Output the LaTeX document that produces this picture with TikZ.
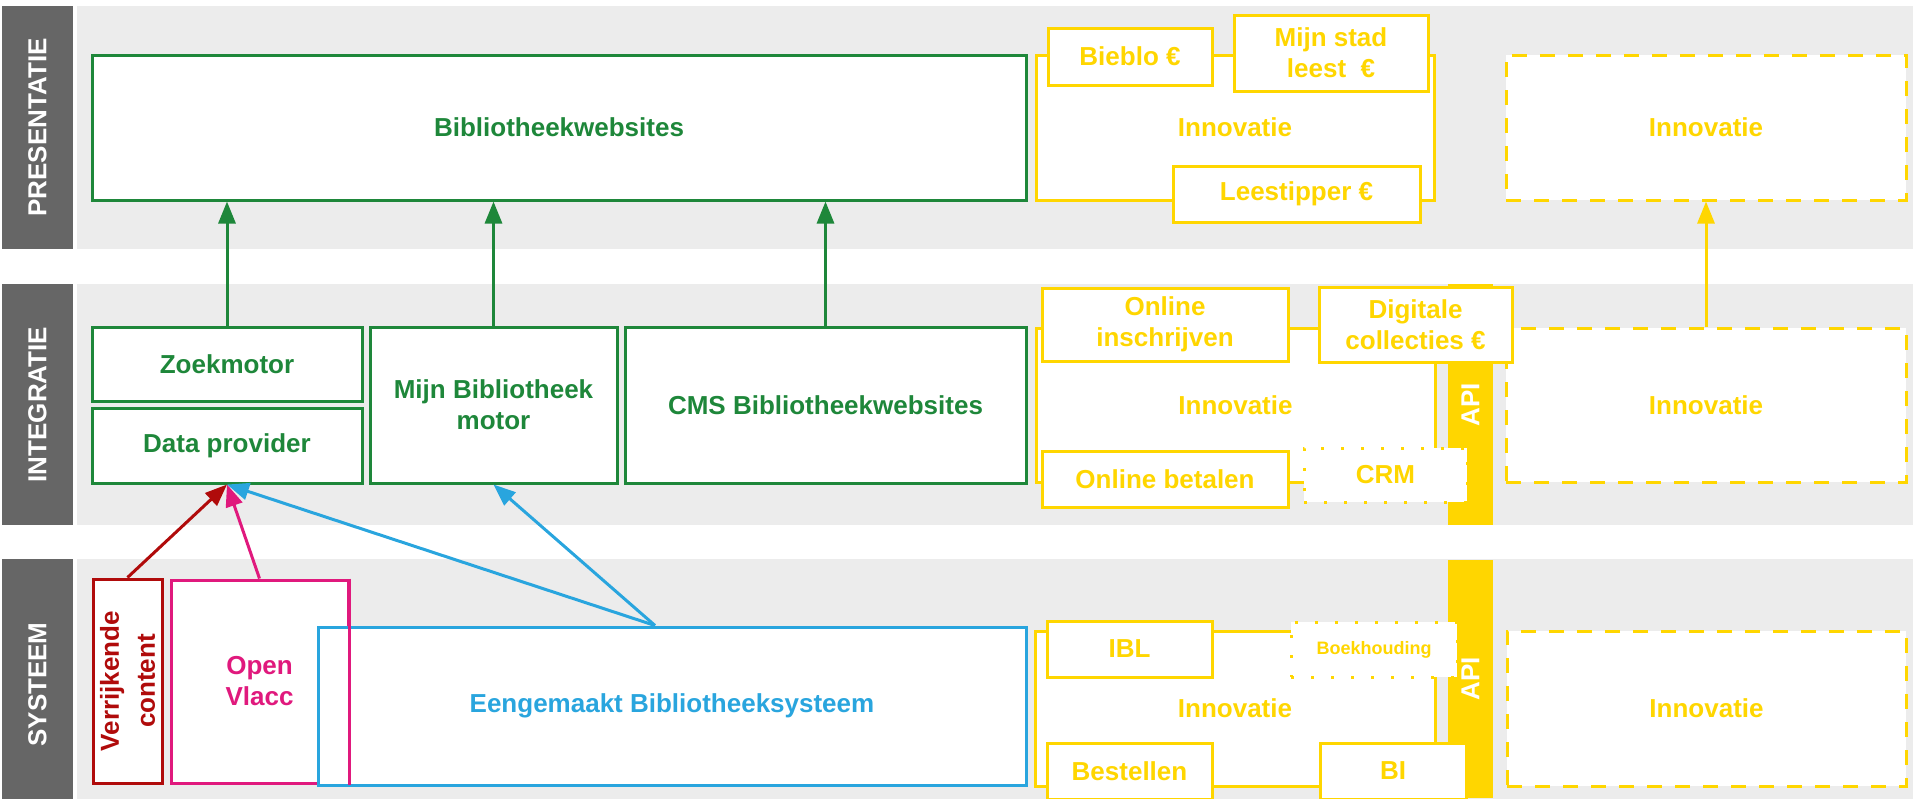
\documentclass[tikz,border=0pt]{standalone}
\usepackage{fontspec}
\setmainfont{Liberation Sans}
\usetikzlibrary{arrows.meta}
\definecolor{groen}{HTML}{1E873A}
\definecolor{geel}{HTML}{FFD600}
\definecolor{blauw}{HTML}{29A5DE}
\definecolor{roze}{HTML}{E0197D}
\definecolor{rood}{HTML}{B00B0B}
\definecolor{band}{HTML}{ECECEC}
\definecolor{kopgrijs}{HTML}{666666}
\tikzset{
	blok/.style={draw=#1, text=#1, fill=white, line width=3pt, align=center, inner sep=0pt},
	maat/.style 2 args={minimum width=#1pt, minimum height=#2pt},
	gestreept/.style={blok=geel, dash pattern=on 15pt off 13pt},
	gestippeld/.style={blok=geel, dash pattern=on 3pt off 17pt},
	kop/.style={fill=kopgrijs, text=white, rotate=90, inner sep=0pt},
	balk/.style={fill=geel, text=white, rotate=90, inner sep=0pt},
	pijl/.style={draw=#1, line width=3pt, -{Triangle[length=22pt,width=17pt]}},
}

\begin{document}
\begin{tikzpicture}[x=1pt,y=-1pt,every node/.style={font=\bfseries\fontsize{26}{31}\selectfont}]
	\path[use as bounding box, clip] (0,0) rectangle (1913,798);
	% lagen
	\foreach \laag/\y/\h in {PRESENTATIE/127.5/243,INTEGRATIE/404.5/241,SYSTEEM/684.5/251}{
		\fill[band] (77,\y-\h/2) rectangle (1913,\y+\h/2);
		\node[kop, maat={\h}{71}] (\laag) at (37.5,\y) {\laag};}
	% presentatie
	\node[blok=groen, maat={934}{145}] (websites) at (559,127.5) {Bibliotheekwebsites};
	\node[blok=geel, maat={398}{145}] (innovatie1) at (1235,127.5) {Innovatie};
	\node[gestreept, maat={400}{145}] (nieuw1) at (1706,127.5) {Innovatie};
	\node[blok=geel, maat={164}{57}] (bieblo) at (1130,56.5) {Bieblo €};
	\node[blok=geel, maat={194}{76}] (mijnstad) at (1331,53) {Mijn stad\\leest~~€};
	\node[blok=geel, maat={247}{56}] (leestipper) at (1296.5,194) {Leestipper €};
	% integratie
	\node[blok=groen, maat={270}{74}] (zoekmotor) at (227,364) {Zoekmotor};
	\node[blok=groen, maat={270}{75}] (dataprovider) at (227,445.5) {Data provider};
	\node[blok=groen, maat={247}{156}] (mijnbib) at (493.5,405) {Mijn Bibliotheek\\motor};
	\node[blok=groen, maat={401}{156}] (cms) at (825.5,405) {CMS Bibliotheekwebsites};
	\node[blok=geel, maat={399}{154}] (innovatie2) at (1235.5,405) {Innovatie};
	\node[balk, maat={241}{45}] (api1) at (1470.5,404.5) {API};
	\node[gestreept, maat={400}{154}] (nieuw2) at (1706,405) {Innovatie};
	\node[blok=geel, maat={246}{73}] (inschrijven) at (1165,324.5) {Online\\inschrijven};
	\node[blok=geel, maat={193}{75}] (collecties) at (1415.5,324.5) {Digitale\\collecties €};
	\node[blok=geel, maat={246}{56}] (betalen) at (1165,479) {Online betalen};
	\node[gestippeld, maat={163}{54}] (crm) at (1385.5,475) {CRM};
	% systeem
	\node[blok=roze, maat={177}{203}] (vlacc) at (259.5,681.5) {Open\\Vlacc};
	\node[blok=blauw, maat={708}{158}] (ebs) at (672,706) {Eengemaakt Bibliotheeksysteem};
	\draw[roze, line width=3pt] (vlacc.north east) -- (vlacc.south east);
	\node[blok=rood, rotate=90, maat={204}{69}, font=\bfseries\fontsize{26}{36}\selectfont] (verrijkend) at (127.5,681) {Verrijkende\\content};
	\node[blok=geel, maat={400}{155}] (innovatie3) at (1235,708.5) {Innovatie};
	\node[balk, maat={238}{45}] (api2) at (1470.5,679) {API};
	\node[gestreept, maat={399}{155}] (nieuw3) at (1706.5,708.5) {Innovatie};
	\node[blok=geel, maat={165}{56}] (ibl) at (1129.5,649) {IBL};
	\node[gestippeld, maat={166}{55}, font=\bfseries\fontsize{18}{22}\selectfont] (boekhouding) at (1374,649.5) {Boekhouding};
	\node[blok=geel, maat={165}{56}] (bestellen) at (1129.5,771) {Bestellen};
	\node[blok=geel, maat={146}{56}] (bi) at (1393,771) {BI};
	% pijlen
	\foreach \van in {zoekmotor,mijnbib,cms}
		\draw[pijl=groen] (\van.north) -- (\van.north |- websites.south);
	\draw[pijl=geel] (nieuw2.north) -- (nieuw1.south);
	\draw[pijl=rood] (verrijkend.east) -- (dataprovider.south);
	\draw[pijl=roze] (vlacc.north) -- (dataprovider.south);
	\draw[pijl=blauw] ([xshift=-17pt]ebs.north) -- (dataprovider.south);
	\draw[pijl=blauw] ([xshift=-17pt]ebs.north) -- (mijnbib.south);
\end{tikzpicture}
\end{document}
